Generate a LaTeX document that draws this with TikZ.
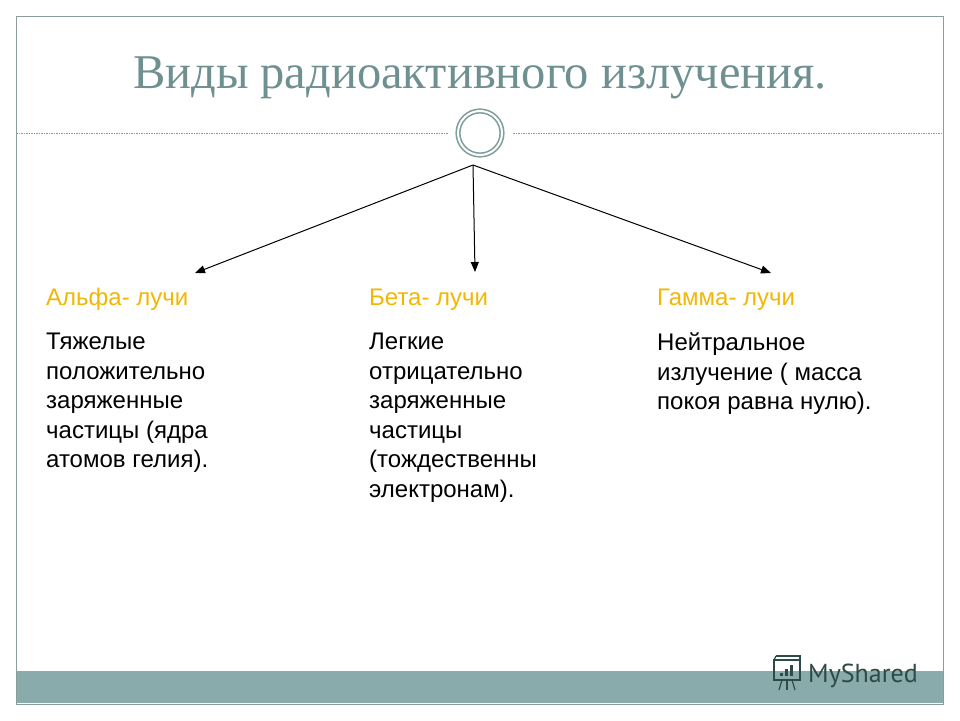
\documentclass[tikz,border=0pt]{standalone}
\usepackage{fontspec}
\setmainfont{Liberation Sans}
\newfontfamily\titlefont{Liberation Serif}
\newfontfamily\logofont{PT Sans}
\usetikzlibrary{arrows.meta}
\definecolor{framegray}{HTML}{8A9C9C}
\definecolor{barteal}{HTML}{8AABAB}
\definecolor{titleteal}{HTML}{6F9090}
\definecolor{ringteal}{HTML}{7F9D9D}
\definecolor{headorange}{HTML}{F2B705}
\definecolor{logodark}{HTML}{2E4A48}
\tikzset{
  heading/.style={anchor=base west, inner sep=0pt, text=headorange, font=\fontsize{24}{29.5}\selectfont},
  body/.style={anchor=north west, inner sep=0pt, align=left, text=black, font=\fontsize{24}{29.5}\selectfont},
  ray/.style={draw=black, line width=1pt, -{Triangle[length=10pt,width=8pt]}}
}
\begin{document}
\begin{tikzpicture}[x=1pt,y=-1pt]
\useasboundingbox (0,0) rectangle (960,720);
\fill[white] (0,0) rectangle (960,720);
% frame and bottom bar
\fill[barteal] (16,671) rectangle (943,703);
\draw[framegray, line width=1pt] (16,16) rectangle (943,704);
% dashed rule with ring
\draw[framegray, line width=0.8pt, dash pattern=on 1.5pt off 1pt] (16,133) -- (448,133);
\draw[framegray, line width=0.8pt, dash pattern=on 1.5pt off 1pt] (513,133) -- (943,133);
\node[circle, minimum size=44pt, inner sep=0pt, draw=ringteal, line width=1.6pt, double=white, double distance=2pt] (ring) at (480,133) {};
% title
\node[anchor=base, inner sep=0pt, text=titleteal, font=\titlefont\fontsize{48.5}{52}\selectfont] (title) at (480,88) {Виды радиоактивного излучения.};
% arrows
\coordinate (src) at (473,165);
\coordinate (tipA) at (195,273);
\coordinate (tipB) at (475,272);
\coordinate (tipC) at (771,273);
\draw[ray] (src) -- (tipA);
\draw[ray] (src) -- (tipB);
\draw[ray] (src) -- (tipC);
% headings
\node[heading] (hA) at (46,305) {Альфа- лучи};
\node[heading] (hB) at (369,305) {Бета- лучи};
\node[heading] (hC) at (657,305) {Гамма- лучи};
% bodies (top = first baseline 350 minus cap height)
\node[body] (bA) at (46,332.8) {Тяжелые\\положительно\\заряженные\\частицы (ядра\\атомов гелия).};
\node[body] (bB) at (369,332.8) {Легкие\\отрицательно\\заряженные\\частицы\\(тождественны\\электронам).};
\node[body] (bC) at (657,332.8) {Нейтральное\\излучение ( масса\\покоя равна нулю).};
% logo
\node[anchor=base west, inner sep=0pt, text=logodark, font=\logofont\fontsize{26}{28}\selectfont] (logo) at (808,682) {MyShared};
\begin{scope}[logodark, line width=1.2pt]
\draw (774,660) rectangle (800,680);
\draw (776,656) -- (800,656) -- (800,660);
\draw (776,656) -- (774,660);
\fill (780,676) rectangle (783,673);
\fill (785,676) rectangle (788,669);
\fill (790,676) rectangle (793,665);
\draw (782,680) -- (779,690);
\draw (787,680) -- (787,690);
\draw (792,680) -- (795,690);
\end{scope}
\end{tikzpicture}
\end{document}
